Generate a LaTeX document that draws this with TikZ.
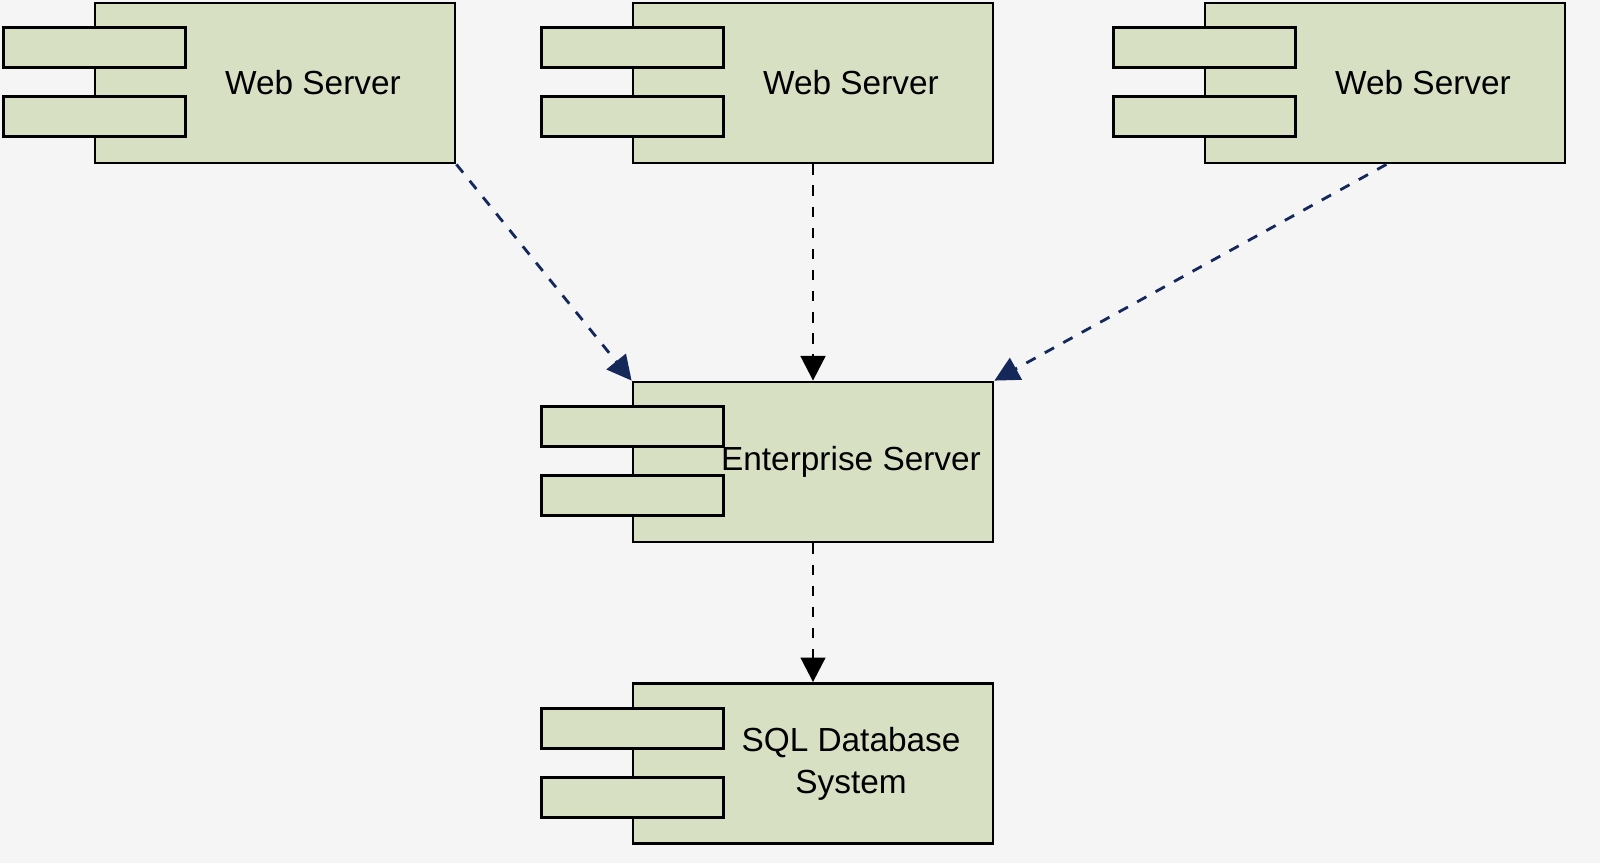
\documentclass[tikz,border=0pt]{standalone}
\usepackage{fontspec}
\setmainfont{Liberation Sans}
\usetikzlibrary{positioning,arrows.meta}
\definecolor{paper}{RGB}{245,245,245}
\definecolor{sage}{RGB}{216,224,196}
\definecolor{navyish}{RGB}{20,40,90}

\newcommand{\component}[3]{%
  \node[comp] (#1) at (#2) {};
  \node[tab] (#1-tabA) at ([xshift=0.01cm,yshift=-0.46cm]#1.north west) {};
  \node[tab] (#1-tabB) at ([xshift=0.01cm,yshift=-1.15cm]#1.north west) {};
  \node[label text] (#1-label) at ([xshift=0.38cm]#1.center) {#3};
}

\begin{document}
\begin{tikzpicture}[
  comp/.style={
    draw,
    thick,
    rectangle,
    fill=sage,
    minimum width=3.6cm,
    minimum height=1.6cm,
    inner sep=0pt,
  },
  tab/.style={
    draw,
    thick,
    rectangle,
    fill=sage,
    minimum width=1.82cm,
    minimum height=0.4cm,
    inner sep=0pt,
  },
  label text/.style={
    align=center,
    font=\fontsize{9.5}{12}\selectfont,
  },
  dep/.style={
    ->,
    thick,
    dashed,
    >={Triangle[length=7pt,width=7pt]}
  },
]

\fill[paper] (0,0) rectangle (16,-8.63);
\useasboundingbox (0,0) rectangle (16,-8.63);

% Web servers
\component{webA}{2.75,-0.83}{Web Server}
\component{webB}{8.13,-0.83}{Web Server}
\component{webC}{13.85,-0.83}{Web Server}

% Backend
\component{ent}{8.13,-4.62}{Enterprise Server}
\component{sql}{8.13,-7.635}{SQL Database\\System}

% Dependencies
\draw[dep,navyish] (webA.south east) -- (ent.north west);
\draw[dep] (webB.south) -- (ent.north);
\draw[dep,navyish] ([xshift=-1.8cm]webC.south east) -- (ent.north east);
\draw[dep] (ent.south) -- (sql.north);

\end{tikzpicture}
\end{document}
